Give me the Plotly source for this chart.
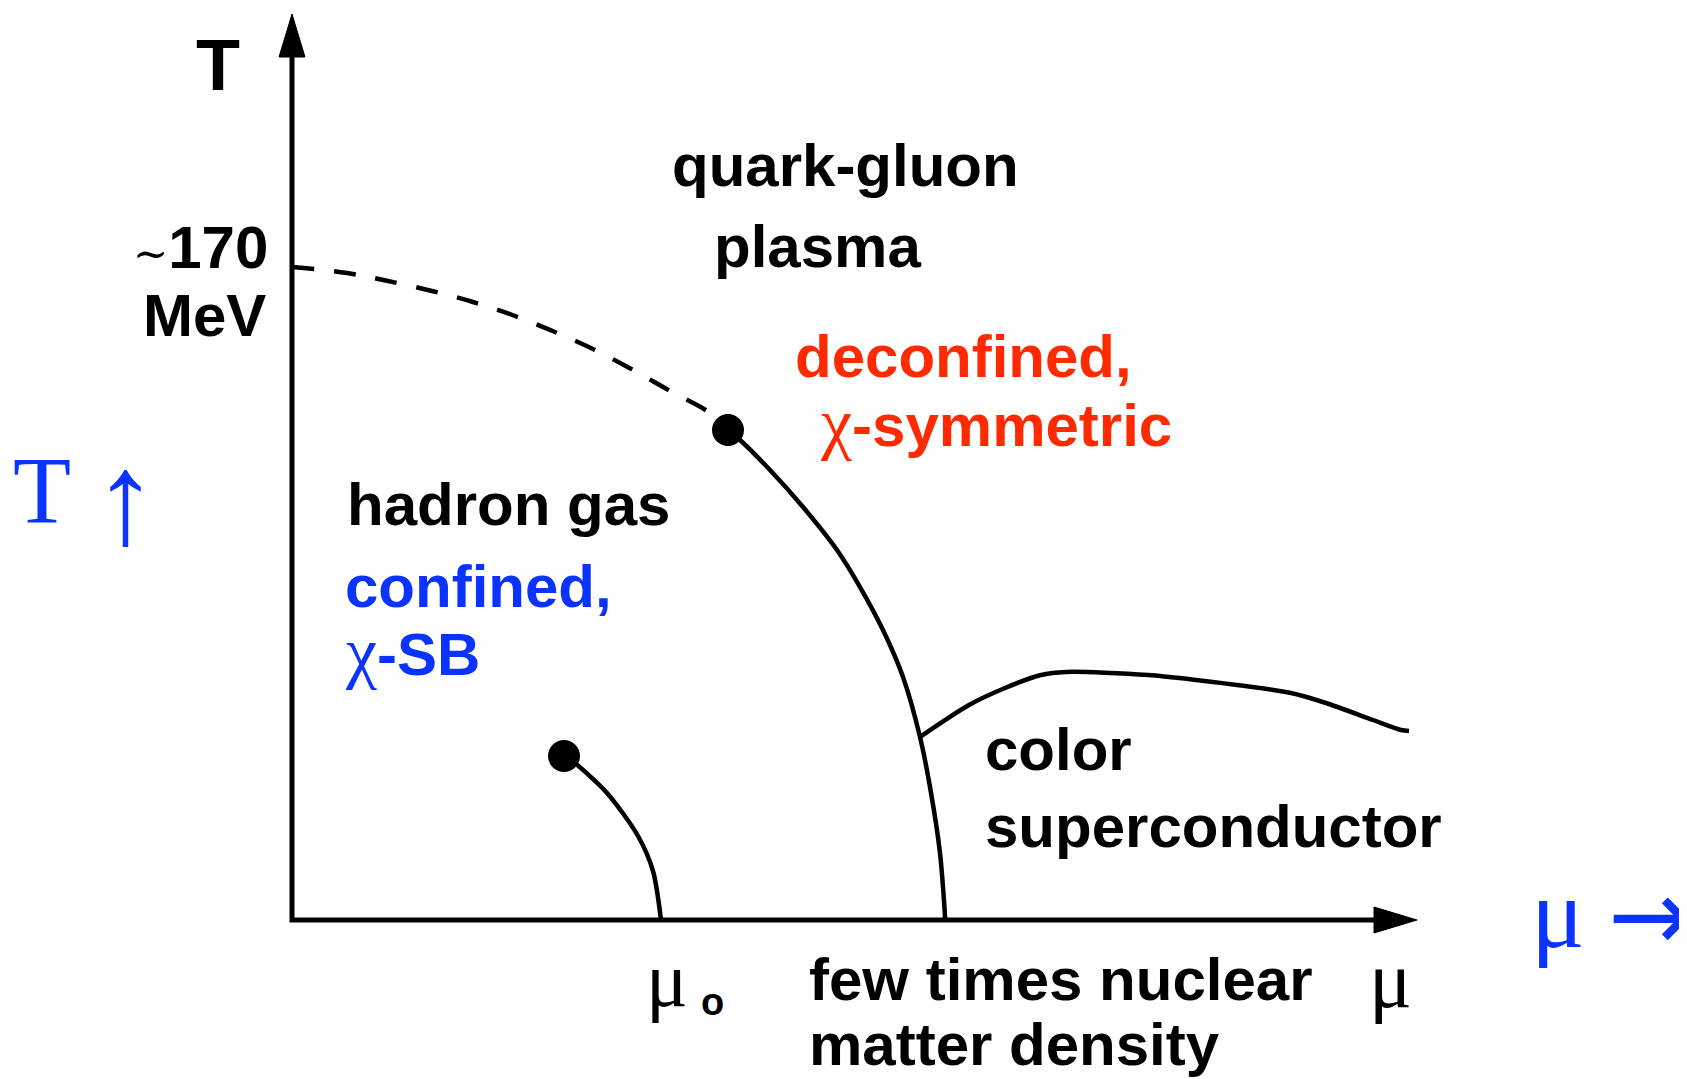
import plotly.graph_objects as go

# Diagram units: 1 unit = 1 px of the original sketch, origin at the axes corner,
# x = baryon chemical potential (mu), y = temperature (T)

# crossover (dashed) from T axis to the critical end point
crossover_mu = [0, 55, 96, 140, 181, 223, 263, 303, 341, 380, 418, 436]
crossover_T = [653, 647, 639, 629, 618, 604, 588, 570, 550, 528, 507, 490]

# first order deconfinement / chiral line, critical point down to the mu axis
first_order_mu = [436, 448, 478, 511, 545, 568, 591, 611, 628, 638, 648, 653, 653]
first_order_T = [490, 480, 450, 413, 370, 333, 290, 243, 183, 133, 67, 3, 0]

# nuclear liquid-gas line
liquid_gas_mu = [272, 284, 315, 346, 361, 369]
liquid_gas_T = [164, 156, 127, 84, 49, 0]

# color superconductor boundary
csc_mu = [628, 677, 713, 749, 774, 856, 945, 999, 1034, 1081, 1109, 1117]
csc_T = [183, 215, 232, 245, 248, 245, 235, 227, 217, 200, 190, 189]

# end points (critical points)
crit_mu = [436, 272]
crit_T = [490, 164]

# axes
T_AXIS_TIP = 906
MU_AXIS_TIP = 1125
HEAD_LEN = 43
HEAD_HALF = 13

RED = "#ff2a00"
BLUE = "#0a33ff"
SANS = "Liberation Sans"
SERIF = "Liberation Serif"

# page offset of the plot div (body margin)
OFF = 8

fig = go.Figure()

# axes with arrow heads
fig.add_trace(go.Scatter(
    x=[0, 0, MU_AXIS_TIP - HEAD_LEN], y=[T_AXIS_TIP - HEAD_LEN, 0, 0],
    mode="lines", line=dict(color="black", width=5)))
fig.add_trace(go.Scatter(
    x=[-HEAD_HALF, HEAD_HALF, 0, -HEAD_HALF],
    y=[T_AXIS_TIP - HEAD_LEN, T_AXIS_TIP - HEAD_LEN, T_AXIS_TIP, T_AXIS_TIP - HEAD_LEN],
    mode="lines", fill="toself", fillcolor="black", line=dict(color="black", width=1)))
fig.add_trace(go.Scatter(
    x=[MU_AXIS_TIP - HEAD_LEN, MU_AXIS_TIP - HEAD_LEN, MU_AXIS_TIP, MU_AXIS_TIP - HEAD_LEN],
    y=[-HEAD_HALF, HEAD_HALF, 0, -HEAD_HALF],
    mode="lines", fill="toself", fillcolor="black", line=dict(color="black", width=1)))

# phase lines
fig.add_trace(go.Scatter(x=crossover_mu, y=crossover_T, mode="lines",
                         line=dict(color="black", width=4.5, dash="22px,20px", shape="spline")))
for xs, ys in [(first_order_mu, first_order_T), (liquid_gas_mu, liquid_gas_T), (csc_mu, csc_T)]:
    fig.add_trace(go.Scatter(x=xs, y=ys, mode="lines",
                             line=dict(color="black", width=4.5, shape="spline", smoothing=0.8)))
fig.add_trace(go.Scatter(x=crit_mu, y=crit_T, mode="markers",
                         marker=dict(color="black", size=32)))


def label(text, x, base, size, color="black", family=SANS, bold=True, anchor="left"):
    # x, base given in sketch pixels (left edge / baseline); converted to diagram units
    fig.add_annotation(
        x=x - 292, y=920 - base + 0.34 * size, text=text, showarrow=False,
        xanchor=anchor, yanchor="middle",
        font=dict(family=family, size=size, color=color, weight="bold" if bold else "normal"))


def glyph(text, xc, yc, size, color, family=SERIF, anchor="center"):
    fig.add_annotation(
        x=xc - 292, y=920 - yc, text=text, showarrow=False,
        xanchor=anchor, yanchor="middle",
        font=dict(family=family, size=size, color=color))


chi = '<span style="font-family:Liberation Serif;font-weight:normal;font-size:70px">χ</span>'
tilde = '<span style="font-family:DejaVu Serif;font-weight:normal;font-size:42px">∼</span>'

label("T", 194, 89, 72)
label(tilde + "170", 270, 268, 60, anchor="right")
label("MeV", 268, 336, 60, anchor="right")
label("quark-gluon", 670, 186, 60)
label("plasma", 712, 267, 60)
label("deconfined,", 793, 377, 60, RED)
label(chi + "-symmetric", 818, 443, 60, RED)
label("hadron gas", 345, 525, 60)
label("confined,", 343, 607, 60, BLUE)
label(chi + "-SB", 343, 672, 60, BLUE)
label("color", 983, 770, 60)
label("superconductor", 983, 847, 60)
label("few times nuclear", 807, 1000, 60)
label("matter density", 807, 1065, 60)
label("μ", 644, 1006, 78, family=SERIF, bold=False)
label("o", 699, 1015, 38)
label("μ", 1367, 1007, 80, family=SERIF, bold=False)
label("T", 11, 523, 95, BLUE, SERIF, bold=False)
label("μ", 1529, 947, 100, BLUE, SERIF, bold=False)
glyph("↑", 125, 499, 130, BLUE)
glyph("→", 1606, 915, 100, BLUE, family="DejaVu Sans", anchor="left")

fig.update_layout(
    width=1687, height=1079,
    margin=dict(l=0, r=0, t=0, b=0),
    paper_bgcolor="white", plot_bgcolor="white",
    showlegend=False,
    xaxis=dict(range=[-292 + OFF, 1687 - 292 + OFF], visible=False, fixedrange=True),
    yaxis=dict(range=[920 - 1079 - OFF, 920 - OFF], visible=False, fixedrange=True),
)

fig.write_html("out.html")
